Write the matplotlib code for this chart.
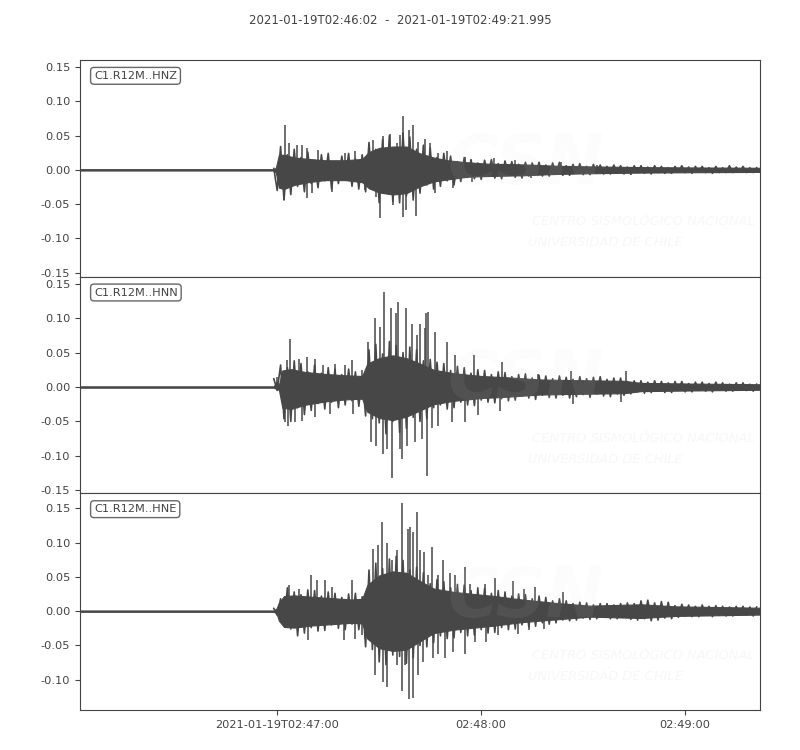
import matplotlib.pyplot as plt
import numpy as np

# header / axis text
start_label = '2021-01-19T02:46:02'
end_label = '2021-01-19T02:49:21.995'
t_end = 199.995  # seconds after start
tick_sec = [58, 118, 178]
tick_labels = ['2021-01-19T02:47:00', '02:48:00', '02:49:00']
channels = ['C1.R12M..HNZ', 'C1.R12M..HNN', 'C1.R12M..HNE']

# ---- HNZ ----
# solid core of the trace (seconds after start, upper, lower)
hnz_t = [0, 57.0, 57.6, 58.5, 60, 63, 67, 72, 78, 83, 85, 88, 92, 96, 100, 104, 108,
         114, 120, 130, 140, 150, 165, 180, 200]
hnz_hi = [0.001, 0.001, 0.003, 0.022, 0.022, 0.018, 0.016, 0.014, 0.014, 0.016, 0.026,
          0.032, 0.034, 0.034, 0.024, 0.018, 0.014, 0.011, 0.009, 0.008, 0.006, 0.005,
          0.004, 0.0035, 0.003]
hnz_lo = [-0.001, -0.001, -0.004, -0.026, -0.028, -0.022, -0.018, -0.015, -0.015,
          -0.018, -0.027, -0.033, -0.036, -0.034, -0.024, -0.017, -0.014, -0.010,
          -0.009, -0.008, -0.006, -0.005, -0.004, -0.0035, -0.003]
# swing per second from 57 s
hnz_sw = [0.002, -0.030, 0.034, -0.044, 0.022, -0.036, 0.030, -0.024, 0.018, -0.032,
          0.026, -0.020, 0.014, -0.026, 0.022, -0.016, 0.024, -0.028, 0.012, -0.020,
          0.020, -0.014, 0.024, -0.024, 0.016, -0.028, 0.022, -0.032, 0.040, -0.028,
          0.030, -0.048, 0.044, -0.034, 0.050, -0.046, 0.032, -0.048, 0.054, -0.038,
          0.048, -0.044, 0.030, -0.034, 0.036, -0.022, 0.032, -0.028, 0.018, -0.024,
          0.024, -0.016, 0.020, -0.022, 0.012, -0.017, 0.018, -0.011, 0.015, -0.013,
          0.010, -0.014, 0.014, -0.009, 0.015, -0.012, 0.009, -0.013, 0.013, -0.008,
          0.012, -0.011, 0.008, -0.012, 0.011, -0.009, 0.010, -0.007, 0.011, -0.009,
          0.007, -0.009, 0.010, -0.006, 0.011, -0.008, 0.006, -0.008, 0.008, -0.005,
          0.009, -0.007, 0.005, -0.007, 0.008, -0.005, 0.007, -0.006, 0.005, -0.006,
          0.007, -0.004, 0.006, -0.006, 0.004, -0.006, 0.006, -0.004, 0.006, -0.005,
          0.004, -0.006, 0.006, -0.004, 0.005, -0.005, 0.003, -0.005, 0.005, -0.003,
          0.006, -0.004, 0.004, -0.005, 0.005, -0.003, 0.005, -0.004, 0.003, -0.005,
          0.005, -0.004, 0.003, -0.004, 0.006, -0.004, 0.004, -0.003, 0.005, -0.004,
          0.003, -0.004, 0.003]
# single large peaks
hnz_pk_t = [60.4, 59.9, 61.4, 63.8, 65.2, 66.7, 66.7, 68.2, 70.1, 74.1, 78.0, 80.9,
            83.8, 86.3, 87.2, 88.2, 89.2, 91.2, 92.1, 93.1, 94.1, 94.9, 95.1, 96.0,
            96.7, 98.0, 98.7, 99.5, 101.4, 102.9, 104.4, 105.3, 107.8, 109.8, 113.2,
            115.2, 121.9, 127.8, 132.7, 141.5, 152.2, 162.0]
hnz_pk_v = [0.065, -0.044, 0.039, 0.036, 0.036, -0.041, 0.032, -0.034, 0.029, -0.032,
            0.024, 0.027, -0.029, 0.044, -0.039, -0.070, 0.049, 0.053, -0.051, 0.039,
            0.051, 0.078, -0.069, -0.058, 0.058, 0.065, -0.068, 0.041, 0.045, 0.039,
            -0.034, 0.024, 0.027, -0.027, 0.019, -0.017, 0.017, 0.015, -0.012, 0.012,
            0.007, -0.007]

# ---- HNN ----
hnn_t = [0, 57.0, 57.8, 58.5, 59.5, 62, 66, 72, 78, 83, 84.5, 88, 92, 96, 100, 104, 110,
         118, 126, 135, 145, 160, 165, 180, 200]
hnn_hi = [0.001, 0.001, 0.008, 0.003, 0.024, 0.026, 0.022, 0.019, 0.017, 0.016, 0.034,
          0.042, 0.046, 0.042, 0.034, 0.025, 0.020, 0.016, 0.014, 0.011, 0.010, 0.009,
          0.006, 0.005, 0.004]
hnn_lo = [-0.001, -0.001, -0.003, -0.004, -0.030, -0.032, -0.026, -0.021, -0.018,
          -0.017, -0.036, -0.045, -0.048, -0.043, -0.034, -0.025, -0.020, -0.016,
          -0.014, -0.011, -0.010, -0.009, -0.006, -0.005, -0.004]
hnn_sw = [0.012, -0.005, 0.032, -0.046, 0.028, -0.050, 0.038, -0.030, 0.034, -0.040,
          0.022, -0.034, 0.032, -0.024, 0.020, -0.032, 0.028, -0.022, 0.026, -0.030,
          0.018, -0.026, 0.026, -0.020, 0.022, -0.028, 0.016, -0.042, 0.054, -0.046,
          0.062, -0.052, 0.048, -0.068, 0.066, -0.050, 0.060, -0.066, 0.050, -0.060,
          0.058, -0.044, 0.054, -0.050, 0.038, -0.046, 0.040, -0.030, 0.036, -0.026,
          0.034, -0.032, 0.024, -0.030, 0.030, -0.022, 0.028, -0.026, 0.020, -0.027,
          0.025, -0.019, 0.024, -0.022, 0.018, -0.023, 0.022, -0.017, 0.021, -0.020,
          0.015, -0.019, 0.018, -0.013, 0.019, -0.016, 0.013, -0.018, 0.017, -0.012,
          0.016, -0.015, 0.012, -0.016, 0.016, -0.012, 0.014, -0.016, 0.011, -0.014,
          0.015, -0.011, 0.012, -0.015, 0.014, -0.010, 0.015, -0.013, 0.011, -0.014,
          0.013, -0.010, 0.013, -0.012, 0.008, -0.010, 0.009, -0.007, 0.009, -0.009,
          0.007, -0.008, 0.009, -0.006, 0.008, -0.008, 0.006, -0.008, 0.008, -0.005,
          0.008, -0.007, 0.005, -0.007, 0.007, -0.005, 0.007, -0.006, 0.005, -0.007,
          0.007, -0.004, 0.006, -0.006, 0.004, -0.006, 0.006, -0.004, 0.006, -0.005,
          0.004, -0.006, 0.004]
hnn_pk_t = [57.9, 60.4, 60.9, 61.8, 61.2, 63.3, 64.3, 65.2, 66.7, 69.2, 69.2, 71.6,
            73.6, 75.0, 78.0, 79.9, 80.4, 82.9, 84.8, 85.6, 86.8, 87.2, 88.2, 89.0,
            89.4, 90.2, 91.5, 91.8, 92.8, 93.6, 94.1, 94.8, 95.8, 96.2, 97.5, 98.5,
            99.0, 100.0, 100.5, 101.4, 101.9, 102.1, 102.4, 103.4, 104.4, 105.3, 107.8,
            109.3, 110.2, 113.2, 115.9, 117.1, 123.5, 124.0, 134.7, 144.5, 145.0, 159.2,
            160.6]
hnn_pk_v = [0.015, -0.051, 0.039, 0.070, -0.056, -0.051, 0.041, -0.049, 0.044, 0.041,
            -0.044, 0.032, -0.039, 0.034, 0.032, 0.039, -0.039, 0.024, 0.065, -0.080,
            0.100, -0.085, 0.087, -0.097, 0.138, -0.090, 0.114, -0.132, 0.107, 0.124,
            -0.090, -0.104, 0.114, -0.085, 0.092, -0.080, 0.075, 0.092, -0.075, 0.085,
            0.107, -0.129, 0.109, -0.060, 0.080, -0.056, 0.065, -0.051, 0.046, -0.051,
            0.046, -0.041, -0.035, 0.037, 0.019, 0.023, -0.024, -0.022, 0.023]

# ---- HNE ----
hne_t = [0, 57.0, 57.8, 58.5, 60, 63, 68, 74, 80, 83, 84.5, 88, 92, 96, 100, 104, 110,
         116, 122, 130, 140, 150, 165, 175, 200]
hne_hi = [0.001, 0.001, 0.004, 0.012, 0.022, 0.023, 0.021, 0.019, 0.017, 0.018, 0.038,
          0.052, 0.058, 0.056, 0.044, 0.033, 0.028, 0.025, 0.022, 0.017, 0.012, 0.008,
          0.010, 0.007, 0.005]
hne_lo = [-0.001, -0.001, -0.003, -0.014, -0.023, -0.024, -0.021, -0.019, -0.017,
          -0.018, -0.040, -0.054, -0.058, -0.056, -0.044, -0.032, -0.027, -0.024,
          -0.021, -0.016, -0.012, -0.008, -0.010, -0.007, -0.005]
hne_sw = [0.004, -0.006, 0.018, -0.022, 0.034, -0.026, 0.028, -0.036, 0.024, -0.032,
          0.031, -0.024, 0.030, -0.029, 0.022, -0.028, 0.028, -0.020, 0.026, -0.025,
          0.020, -0.027, 0.025, -0.019, 0.026, -0.027, 0.021, -0.052, 0.060, -0.056,
          0.070, -0.074, 0.062, -0.078, 0.076, -0.064, 0.080, -0.066, 0.074, -0.076,
          0.060, -0.068, 0.064, -0.050, 0.056, -0.052, 0.040, -0.046, 0.046, -0.036,
          0.043, -0.040, 0.034, -0.039, 0.039, -0.031, 0.038, -0.036, 0.030, -0.035,
          0.034, -0.027, 0.033, -0.032, 0.026, -0.031, 0.030, -0.024, 0.028, -0.027,
          0.022, -0.026, 0.025, -0.020, 0.024, -0.023, 0.018, -0.022, 0.022, -0.017,
          0.020, -0.019, 0.015, -0.017, 0.018, -0.013, 0.015, -0.014, 0.011, -0.013,
          0.013, -0.010, 0.012, -0.012, 0.009, -0.011, 0.011, -0.009, 0.011, -0.011,
          0.009, -0.011, 0.011, -0.009, 0.012, -0.012, 0.011, -0.013, 0.015, -0.011,
          0.016, -0.014, 0.012, -0.013, 0.014, -0.010, 0.013, -0.011, 0.008, -0.009,
          0.010, -0.007, 0.009, -0.008, 0.007, -0.008, 0.009, -0.006, 0.007, -0.008,
          0.008, -0.006, 0.007, -0.007, 0.006, -0.007, 0.007, -0.005, 0.007, -0.006,
          0.006, -0.007, 0.006]
hne_pk_t = [61.4, 64.3, 67.0, 67.9, 69.7, 72.1, 74.1, 77.5, 79.9, 80.9, 82.9, 86.3,
            86.8, 87.7, 88.7, 89.0, 90.2, 90.4, 91.7, 93.1, 93.1, 94.6, 94.8, 95.6, 96.4,
            96.7, 97.0, 97.8, 98.0, 99.0, 99.5, 100.0, 100.9, 101.2, 102.4, 103.4, 103.8,
            105.3, 105.3, 106.8, 107.3, 108.8, 109.8, 110.2, 113.2, 113.2, 114.6, 116.1,
            119.0, 119.5, 122.0, 122.9, 127.3, 128.8, 130.7, 132.2, 133.7, 136.6, 142.0]
hne_pk_v = [0.038, 0.033, -0.042, 0.052, 0.045, 0.045, 0.035, -0.042, 0.045, -0.040,
            -0.035, 0.091, -0.093, 0.096, 0.13, -0.103, -0.110, 0.10, 0.074, 0.089,
            -0.079, 0.157, -0.117, -0.079, 0.12, -0.128, 0.123, -0.126, 0.115, 0.145,
            -0.093, 0.089, -0.074, 0.086, 0.052, 0.094, -0.069, 0.052, -0.062, 0.074,
            -0.069, 0.055, -0.059, 0.052, 0.065, -0.062, 0.040, -0.045, 0.040, -0.045,
            0.048, -0.035, 0.044, -0.033, 0.033, -0.028, 0.035, -0.026, 0.028]

sw_start = 57  # first second of the swing lists

traces = [(hnz_t, hnz_hi, hnz_lo, hnz_sw, hnz_pk_t, hnz_pk_v),
          (hnn_t, hnn_hi, hnn_lo, hnn_sw, hnn_pk_t, hnn_pk_v),
          (hne_t, hne_hi, hne_lo, hne_sw, hne_pk_t, hne_pk_v)]
ylims = [(-0.1558, 0.1602), (-0.1544, 0.1602), (-0.1442, 0.1718)]

col = '#474747'
txt = '#444444'
wm = '#e0e0e0'
plt.rcParams['font.size'] = 8

fig, axes = plt.subplots(3, 1, figsize=(8, 7.5), dpi=100, sharex=True)
fig.subplots_adjust(left=0.1, right=0.95, top=0.92, bottom=0.0533, hspace=0)

for i, ax in enumerate(axes):
    t, hi, lo, sw, pk_t, pk_v = traces[i]
    ax.fill_between(t, lo, hi, color=col, lw=0.8, edgecolor=col)
    ax.plot(sw_start + np.arange(len(sw)), sw, color=col, lw=1.2)
    ax.vlines(pk_t, 0, pk_v, color=col, lw=1.1)
    ax.set_xlim(0, t_end)
    ax.set_ylim(*ylims[i])
    if i < 2:
        ax.set_yticks([-0.15, -0.10, -0.05, 0.0, 0.05, 0.10, 0.15])
    else:
        ax.set_yticks([-0.10, -0.05, 0.0, 0.05, 0.10, 0.15])
    ax.yaxis.set_major_formatter(plt.FormatStrFormatter('%.2f'))
    for s in ax.spines.values():
        s.set_color(txt)
    ax.tick_params(colors=txt, labelsize=8.2)
    ax.text(0.0206, 0.95, channels[i], transform=ax.transAxes, ha='left', va='top',
            color=txt, fontsize=8.2,
            bbox=dict(boxstyle='round,pad=0.3', fc='white', ec='#666666', lw=1))
    # faint CSN watermark
    ax.text(0.655, 0.52, 'CSN', transform=ax.transAxes, ha='center', va='center',
            fontsize=50, fontweight='bold', fontstyle='italic', color=wm,
            alpha=0.07, zorder=5)
    ax.text(0.665, 0.253, 'CENTRO SISMOLÓGICO NACIONAL', transform=ax.transAxes,
            ha='left', va='center', fontsize=9.4, fontstyle='italic',
            color=wm, alpha=0.25, zorder=5)
    ax.text(0.659, 0.157, 'UNIVERSIDAD DE CHILE', transform=ax.transAxes,
            ha='left', va='center', fontsize=9.4, fontstyle='italic',
            color=wm, alpha=0.25, zorder=5)
    if i < 2:
        ax.tick_params(axis='x', bottom=False, labelbottom=False)

axes[2].set_xticks(tick_sec)
axes[2].set_xticklabels(tick_labels)

fig.text(0.5, 1 - 20 / 750, start_label + '  -  ' + end_label, ha='center',
         va='center', color=txt, fontsize=8.5)

fig.savefig('out.png', dpi=100)
